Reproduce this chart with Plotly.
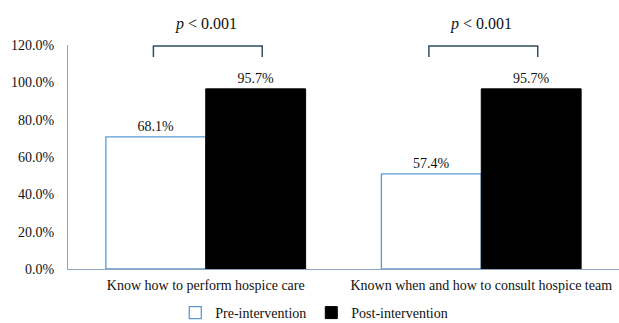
import plotly.graph_objects as go

categories = ["Know how to perform hospice care", "Known when and how to consult hospice team"]
pre_values = [70.8, 51.0]          # drawn bar heights
pre_labels = ["68.1%", "57.4%"]
post_values = [96.5, 96.5]
post_labels = ["95.7%", "95.7%"]
y_ticks = [0, 20, 40, 60, 80, 100, 120]
y_tick_labels = ["0.0%", "20.0%", "40.0%", "60.0%", "80.0%", "100.0%", "120.0%"]
p_texts = ["<i>p</i> < 0.001", "<i>p</i> < 0.001"]

FONT = "Liberation Serif"
TXT = "#111"

fig = go.Figure()
fig.add_trace(go.Bar(
    name="Pre-intervention", x=categories, y=pre_values,
    text=pre_labels, textposition="outside",
    marker=dict(color="white", line=dict(color="#5B9BD5", width=1.3)),
    textfont=dict(family=FONT, size=14, color=TXT),
    cliponaxis=False,
))
fig.add_trace(go.Bar(
    name="Post-intervention", x=categories, y=post_values,
    text=post_labels, textposition="outside",
    marker=dict(color="black", line=dict(color="black", width=1)),
    textfont=dict(family=FONT, size=14, color=TXT),
    cliponaxis=False,
))

shapes = []
annotations = []
for i, cat in enumerate(categories):
    x0, x1 = i - 0.19, i + 0.205
    shapes.append(dict(type="path", xref="x", yref="y",
                       path=f"M {x0},113.6 L {x0},119.5 L {x1},119.5 L {x1},113.6",
                       line=dict(color="#2F4F5F", width=1.5)))
    annotations.append(dict(x=i, y=1.094, xref="x", yref="paper", text=p_texts[i],
                            showarrow=False, font=dict(family=FONT, size=16, color=TXT),
                            yanchor="middle"))

fig.update_layout(
    width=619, height=323,
    margin=dict(l=68, r=0, t=45, b=54),
    paper_bgcolor="white", plot_bgcolor="white",
    barmode="group", bargap=0.275, bargroupgap=0,
    font=dict(family=FONT, size=14, color=TXT),
    shapes=shapes, annotations=annotations,
    showlegend=True,
    legend=dict(orientation="h", x=0.447, xanchor="center", yref="container",
                y=0.031, yanchor="middle",
                font=dict(family=FONT, size=14, color=TXT), itemwidth=30,
                traceorder="normal"),
    xaxis=dict(showline=True, linecolor="#8FA3B8", linewidth=1, showgrid=False,
               tickfont=dict(family=FONT, size=14, color=TXT), ticks="",
               ticklabelstandoff=3, automargin=False),
    yaxis=dict(range=[0, 120], tickvals=y_ticks, ticktext=y_tick_labels,
               showline=True, linecolor="#8FA3B8", linewidth=1, showgrid=False,
               zeroline=False, ticks="", ticklabelstandoff=10, automargin=False,
               tickfont=dict(family=FONT, size=14, color=TXT)),
)

fig.write_html("out.html", config={"displayModeBar": False},
               post_script="document.body.style.margin='0';")
